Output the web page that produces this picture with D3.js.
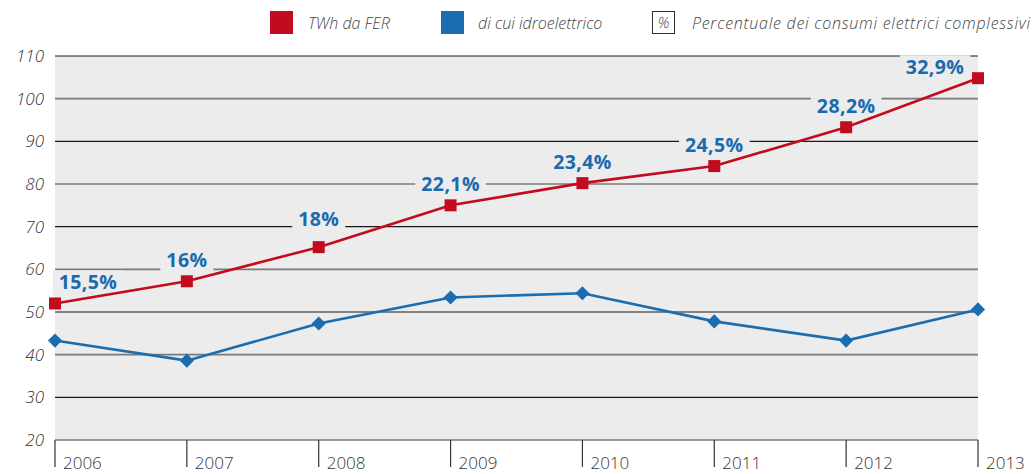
<!DOCTYPE html>
<html>
<head>
<meta charset="utf-8">
<script src="https://cdn.jsdelivr.net/npm/d3@7"></script>
<style>
  body { margin: 0; background: #fff; }
  svg { display: block; }
  .tick-label { font-family: "Open Sans", "DejaVu Sans", sans-serif; font-style: italic; font-weight: 300; fill: #333; }
  .year-label { font-family: "Open Sans", "DejaVu Sans", sans-serif; font-weight: 300; fill: #333; }
  .pct { font-family: "Open Sans", "DejaVu Sans", sans-serif; font-weight: 700; fill: #1a6aae; }
  .legend { font-family: "Open Sans", "DejaVu Sans", sans-serif; font-style: italic; font-weight: 300; fill: #444; }
</style>
</head>
<body>
<div id="chart"></div>
<script>
// data
var years = [2006, 2007, 2008, 2009, 2010, 2011, 2012, 2013];
var fer = [52, 57.2, 65.2, 75, 80.2, 84.2, 93.3, 104.8];
var idro = [43.3, 38.6, 47.3, 53.4, 54.4, 47.8, 43.3, 50.6];
var pctLabels = ["15,5%", "16%", "18%", "22,1%", "23,4%", "24,5%", "28,2%", "32,9%"];
var yTicks = [20, 30, 40, 50, 60, 70, 80, 90, 100, 110];
var legendLabels = ["TWh da FER", "di cui idroelettrico", "Percentuale dei consumi elettrici complessivi"];

var W = 1033, H = 474;
var margin = {top: 56, right: 55, bottom: 34, left: 55};
var width = W - margin.left - margin.right;
var height = H - margin.top - margin.bottom;

var red = "#c20b1f", blue = "#1b6db1", bg = "#ebeceb";

var svg = d3.select("#chart").append("svg")
  .attr("width", W).attr("height", H);

var g = svg.append("g")
  .attr("transform", "translate(" + margin.left + "," + margin.top + ")");

var x = d3.scaleLinear().domain([2006, 2013]).range([0, width]);
var y = d3.scaleLinear().domain([20, 110]).range([height, 0]);

// background panel
g.append("rect")
  .attr("x", 0).attr("y", 0)
  .attr("width", width).attr("height", height)
  .attr("fill", bg);

// gridlines, alternating dark / gray
g.selectAll(".grid")
  .data(yTicks)
  .enter().append("line")
  .attr("class", "grid")
  .attr("x1", 0).attr("x2", width)
  .attr("y1", function(d) { return y(d); })
  .attr("y2", function(d) { return y(d); })
  .attr("stroke", function(d) { return (d / 10) % 2 === 0 ? "#7a7a7a" : "#1a1a1a"; })
  .attr("stroke-width", function(d) { return (d / 10) % 2 === 0 ? 1.6 : 1.2; });

// y tick labels
g.selectAll(".tick-label")
  .data(yTicks)
  .enter().append("text")
  .attr("class", "tick-label")
  .attr("x", -11)
  .attr("y", function(d) { return y(d) + 6; })
  .attr("text-anchor", "end")
  .attr("font-size", 17)
  .text(function(d) { return d; });

// x ticks and year labels
g.selectAll(".xtick")
  .data(years)
  .enter().append("line")
  .attr("class", "xtick")
  .attr("x1", function(d) { return x(d); })
  .attr("x2", function(d) { return x(d); })
  .attr("y1", height)
  .attr("y2", height + 27)
  .attr("stroke", "#333")
  .attr("stroke-width", 1.2);

g.selectAll(".year-label")
  .data(years)
  .enter().append("text")
  .attr("class", "year-label")
  .attr("x", function(d) { return x(d) + 8; })
  .attr("y", height + 29)
  .attr("font-size", 17)
  .text(function(d) { return d; });

// percentage labels with background knockout (under the lines)
var pg = g.selectAll(".pctg")
  .data(pctLabels)
  .enter().append("g")
  .attr("class", "pctg")
  .attr("transform", function(d, i) {
    var px = x(years[i]), py = y(fer[i]) - 14;
    if (i === 0) px += 33;
    if (i === 2) py -= 7;
    if (i === years.length - 1) { px -= 43; py += 10; }
    return "translate(" + px + "," + py + ")";
  });

pg.append("text")
  .attr("class", "pct")
  .attr("text-anchor", "middle")
  .attr("font-size", 19.5)
  .attr("letter-spacing", 0.4)
  .text(function(d) { return d; })
  .each(function() {
    var b = this.getBBox();
    d3.select(this.parentNode).insert("rect", "text")
      .attr("x", b.x - 6).attr("y", b.y + 2)
      .attr("width", b.width + 12).attr("height", b.height - 2)
      .attr("fill", bg);
  });

// lines
var line = d3.line()
  .x(function(d, i) { return x(years[i]); })
  .y(function(d) { return y(d); });

g.append("path")
  .datum(idro)
  .attr("d", line)
  .attr("fill", "none")
  .attr("stroke", blue)
  .attr("stroke-width", 2.6);

g.append("path")
  .datum(fer)
  .attr("d", line)
  .attr("fill", "none")
  .attr("stroke", red)
  .attr("stroke-width", 2.6);

// markers
g.selectAll(".diamond")
  .data(idro)
  .enter().append("rect")
  .attr("class", "diamond")
  .attr("x", -5).attr("y", -5)
  .attr("width", 10).attr("height", 10)
  .attr("fill", blue)
  .attr("transform", function(d, i) {
    return "translate(" + x(years[i]) + "," + y(d) + ") rotate(45)";
  });

g.selectAll(".square")
  .data(fer)
  .enter().append("rect")
  .attr("class", "square")
  .attr("x", function(d, i) { return x(years[i]) - 6; })
  .attr("y", function(d) { return y(d) - 6; })
  .attr("width", 12).attr("height", 12)
  .attr("fill", red);

// legend
var lg = svg.append("g");
lg.append("rect").attr("x", 270).attr("y", 11).attr("width", 23).attr("height", 23).attr("fill", red);
lg.append("text").attr("class", "legend").attr("x", 308).attr("y", 29).attr("font-size", 16).text(legendLabels[0]);
lg.append("rect").attr("x", 441).attr("y", 11).attr("width", 23).attr("height", 23).attr("fill", blue);
lg.append("text").attr("class", "legend").attr("x", 478).attr("y", 29).attr("font-size", 16).text(legendLabels[1]);
lg.append("rect").attr("x", 652.5).attr("y", 11.5).attr("width", 22).attr("height", 22)
  .attr("fill", "none").attr("stroke", "#333").attr("stroke-width", 1);
lg.append("text").attr("class", "legend").attr("x", 663.5).attr("y", 28).attr("font-size", 15)
  .attr("text-anchor", "middle").text("%");
lg.append("text").attr("class", "legend").attr("x", 692).attr("y", 29).attr("font-size", 16)
  .attr("textLength", 338).text(legendLabels[2]);
</script>
</body>
</html>
